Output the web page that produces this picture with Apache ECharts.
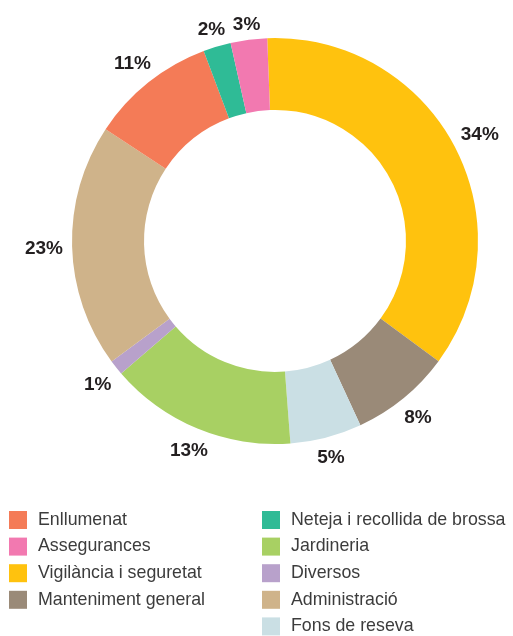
<!DOCTYPE html>
<html>
<head>
<meta charset="utf-8">
<script src="https://cdn.jsdelivr.net/npm/echarts@6/dist/echarts.min.js"></script>
<style>
  html, body { margin: 0; padding: 0; background: #fff; }
  #chart { width: 513px; height: 636px; }
</style>
</head>
<body>
<div id="chart"></div>
<script>
// slices clockwise from the top, as drawn
const categories = [
  "Vigilància i seguretat", "Manteniment general", "Fons de reseva", "Jardineria",
  "Diversos", "Administració", "Enllumenat", "Neteja i recollida de brossa", "Assegurances"
];
// slice sizes (%)
const shares = [35.7, 8.0, 5.7, 14.9, 1.2, 19.4, 10.0, 2.2, 2.9];
// percentages printed next to the slices
const printed = ["34%", "8%", "5%", "13%", "1%", "23%", "11%", "2%", "3%"];
const colors = ["#ffc20e", "#9a8a78", "#cadfe4", "#a8d063", "#b8a1cb", "#cfb38a", "#f47b57", "#2fbb96", "#f279b0"];

// legend columns
const legendLeft = ["Enllumenat", "Assegurances", "Vigilància i seguretat", "Manteniment general"];
const legendRight = ["Neteja i recollida de brossa", "Jardineria", "Diversos", "Administració", "Fons de reseva"];

const center = [275, 241];
const labelGap = 212; // distance from centre to the nearest edge of a label

const chart = echarts.init(document.getElementById("chart"), null, { renderer: "canvas" });

const font = "'Liberation Sans', Arial, Helvetica, sans-serif";
const legendBase = {
  orient: "vertical",
  top: 511,
  padding: 0,
  icon: "rect",
  itemWidth: 18,
  itemHeight: 18,
  itemGap: 8.6,
  selectedMode: false,
  textStyle: { color: "#3c3c3c", fontSize: 17.8, fontFamily: font, padding: [0, 0, 0, 6] }
};

chart.setOption({
  animation: false,
  backgroundColor: "#ffffff",
  legend: [
    Object.assign({}, legendBase, { left: 9, data: legendLeft }),
    Object.assign({}, legendBase, { left: 262, data: legendRight })
  ],
  series: [
    {
      type: "pie",
      center: center,
      radius: [131, 203],
      startAngle: 92.2,
      avoidLabelOverlap: false,
      silent: true,
      label: { show: false },
      labelLine: { show: false },
      itemStyle: { borderWidth: 0 },
      data: categories.map((name, i) => ({ name, value: shares[i], itemStyle: { color: colors[i] } }))
    },
    {
      // transparent ring outside the donut, only carries the labels
      type: "pie",
      center: center,
      radius: [214, 238],
      startAngle: 92.2,
      avoidLabelOverlap: false,
      silent: true,
      itemStyle: { color: "rgba(0,0,0,0)" },
      label: {
        show: true,
        position: "inside",
        formatter: (p) => printed[p.dataIndex],
        color: "#231f20",
        fontSize: 19,
        fontWeight: "bold",
        fontFamily: font
      },
      labelLine: { show: false },
      // push each label out along its mid-angle so that its box sits just clear of the ring
      labelLayout: (p) => {
        const r = p.labelRect;
        const lx = r.x + r.width / 2;
        const ly = r.y + r.height / 2;
        const dx = lx - center[0];
        const dy = ly - center[1];
        const len = Math.sqrt(dx * dx + dy * dy) || 1;
        const ux = dx / len;
        const uy = dy / len;
        const ext = Math.abs(ux) * r.width / 2 + Math.abs(uy) * (r.height - 6) / 2;
        const dist = labelGap + ext;
        return {
          x: center[0] + ux * dist,
          y: center[1] + uy * dist + 2,
          align: "center",
          verticalAlign: "middle"
        };
      },
      data: shares.map((v) => ({ name: "", value: v }))
    }
  ]
});
</script>
</body>
</html>
